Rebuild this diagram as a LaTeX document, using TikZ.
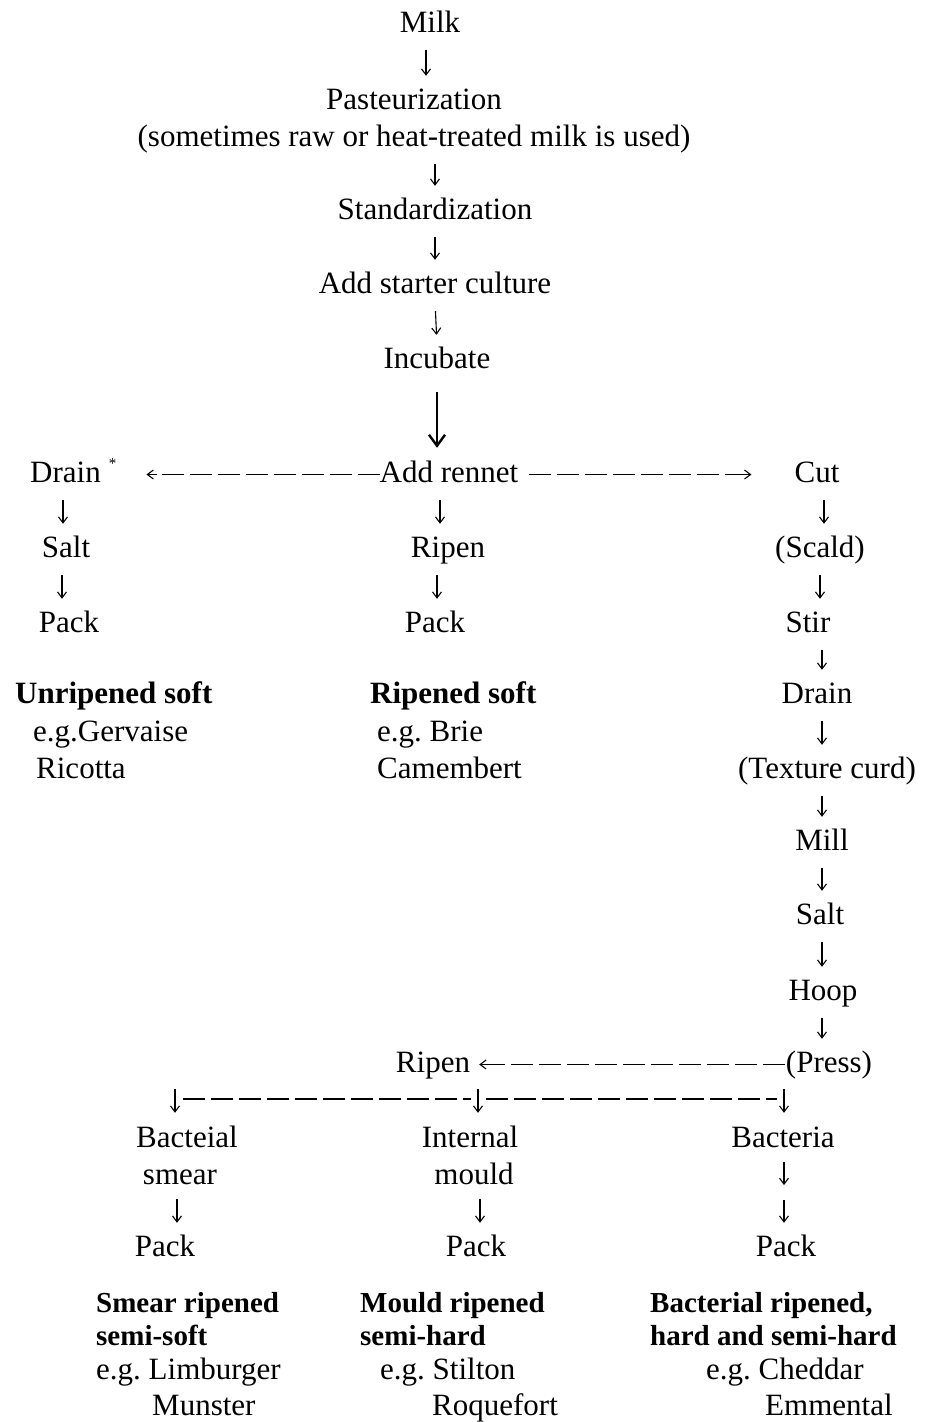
\documentclass[tikz,border=0pt]{standalone}
\usepackage{fontspec}
\setmainfont{Liberation Serif}
\frenchspacing
\usetikzlibrary{arrows.meta}
\tikzset{
  t/.style={font=\fontsize{31}{36}\selectfont, inner sep=0pt, text height=22pt, text depth=7pt, anchor=base},
  tl/.style={t, anchor=base west},
  bl/.style={tl, font=\fontsize{31}{36}\selectfont\bfseries},
  bls/.style={tl, font=\fontsize{29}{34}\selectfont\bfseries},
  arr/.style={line width=1.1pt, -{Straight Barb[length=6pt,width=9pt]}, shorten <=11pt, shorten >=11pt},
  bigarr/.style={line width=2.4pt, -{Straight Barb[length=11pt,width=16pt]}, shorten <=17pt, shorten >=12pt},
  dline/.style={line width=1.1pt, dash pattern=on 22pt off 6pt},
  tiparr/.style={line width=1.1pt, -{Straight Barb[length=6pt,width=9pt]}},
}
\begin{document}
\begin{tikzpicture}[x=1pt,y=-1pt]
\useasboundingbox (0,0) rectangle (928,1422);
% main trunk
\node[t] (milk) at (430,32) {Milk};
\node[t] (past) at (414,109) {Pasteurization};
\node[t] (some) at (414,146) {(sometimes raw or heat-treated milk is used)};
\node[t] (std) at (435,219) {Standardization};
\node[t] (start) at (435,293) {Add starter culture};
\node[t] (incub) at (437,368) {Incubate};
\node[t] (rennet) at (449,482) {Add rennet};
\node[tl] (drain1) at (30,482) {Drain\hspace{8pt}\raisebox{14pt}{\fontsize{15}{15}\selectfont *}};
\node[t] (cut) at (817,482) {Cut};
% left column
\node[t] (salt1) at (66,557) {Salt};
\node[t] (pack1) at (69,632) {Pack};
\node[bl] (unrip) at (15,703) {Unripened soft};
\node[tl] (gerv) at (33,741) {e.g.Gervaise};
\node[tl] (ricot) at (36,778) {Ricotta};
% middle column
\node[t] (ripen1) at (448,557) {Ripen};
\node[t] (pack2) at (435,632) {Pack};
\node[bl] (ripsoft) at (370,703) {Ripened soft};
\node[tl] (brie) at (377,741) {e.g. Brie};
\node[tl] (camem) at (377,778) {Camembert};
% right column
\node[t] (scald) at (820,557) {(Scald)};
\node[t] (stir) at (808,632) {Stir};
\node[t] (drain2) at (817,703) {Drain};
\node[t] (text) at (827,778) {(Texture curd)};
\node[t] (mill) at (822,850) {Mill};
\node[t] (salt2) at (820,924) {Salt};
\node[t] (hoop) at (823,1000) {Hoop};
\node[t] (press) at (829,1072) {(Press)};
\node[t] (ripen2) at (433,1072) {Ripen};
% bottom
\node[t] (bact1) at (187,1147) {Bacteial};
\node[t] (smear) at (180,1184) {smear};
\node[t] (int) at (470,1147) {Internal};
\node[t] (mould) at (474,1184) {mould};
\node[t] (bact3) at (783,1147) {Bacteria};
\node[t] (pack4) at (165,1256) {Pack};
\node[t] (pack5) at (476,1256) {Pack};
\node[t] (pack6) at (786,1256) {Pack};
\node[bls] (smr) at (96,1312) {Smear ripened};
\node[bls] (ssoft) at (96,1345) {semi-soft};
\node[tl] (limb) at (96,1379) {e.g. Limburger};
\node[tl] (munst) at (152,1415) {Munster};
\node[bls] (mr) at (360,1312) {Mould ripened};
\node[bls] (shard) at (360,1345) {semi-hard};
\node[tl] (stil) at (380,1379) {e.g. Stilton};
\node[tl] (roq) at (432,1415) {Roquefort};
\node[bls] (br) at (650,1312) {Bacterial ripened,};
\node[bls] (hsh) at (650,1345) {hard and semi-hard};
\node[tl] (ched) at (706,1379) {e.g. Cheddar};
\node[tl] (emm) at (765,1415) {Emmental};
% coordinates
\coordinate (bL) at (175,1089);
\coordinate (bM) at (478,1089);
\coordinate (bR) at (784,1089);
\coordinate (bmid) at (784,1192);
% trunk arrows
\draw[arr] (milk.south -| 426,0) -- (past.north -| 426,0);
\draw[arr] (some.south -| std.north) -- (std.north);
\draw[arr] (std.south) -- (start.north);
\draw[arr] (start.south) -- (incub.north);
\draw[bigarr] (incub.south) -- (incub.south |- rennet.north);
% horizontal dashed arrows (dashed shaft + solid tip)
\draw[dline, shorten >=34pt] (rennet.west) -- (rennet.west -| drain1.east);
\draw[tiparr, shorten <=223pt, shorten >=30pt] (rennet.west) -- (rennet.west -| drain1.east);
\draw[dline, shorten <=10pt, shorten >=47pt] (rennet.east) -- (cut.west);
\draw[tiparr, shorten <=224pt, shorten >=43pt] (rennet.east) -- (cut.west);
% left column
\draw[arr] (drain1.south -| 63,0) -- (salt1.north -| 63,0);
\draw[arr] (salt1.south -| 62,0) -- (pack1.north -| 62,0);
% middle column
\draw[arr] (rennet.south -| 440,0) -- (ripen1.north -| 440,0);
\draw[arr] (ripen1.south -| 437,0) -- (pack2.north -| 437,0);
% right column
\draw[arr] (cut.south -| 824,0) -- (scald.north -| 824,0);
\draw[arr] (scald.south) -- (scald.south |- stir.north);
\draw[arr] (stir.south -| 822,0) -- (drain2.north -| 822,0);
\draw[arr] (drain2.south -| 822,0) -- (text.north -| 822,0);
\draw[arr] (text.south -| mill.north) -- (mill.north);
\draw[arr] (mill.south) -- (mill.south |- salt2.north);
\draw[arr] (salt2.south -| 822,0) -- (hoop.north -| 822,0);
\draw[arr] (hoop.south -| 822,0) -- (press.north -| 822,0);
\draw[dline, shorten <=1pt, shorten >=13pt] (press.west) -- (ripen2.east);
\draw[tiparr, shorten <=300pt, shorten >=9pt] (press.west) -- (ripen2.east);
% branch
\draw[dline] ([shift={(8,10)}]bL) -- ([shift={(-7,10)}]bM);
\draw[dline] ([shift={(8,10)}]bM) -- ([shift={(-7,10)}]bR);
\draw[arr, shorten <=0pt, shorten >=12pt] (bL) -- (bL |- bact1.north);
\draw[arr, shorten <=0pt, shorten >=12pt] (bM) -- (bM |- int.north);
\draw[arr, shorten <=0pt, shorten >=12pt] (bR) -- (bR |- bact3.north);
\draw[arr, shorten <=8pt, shorten >=11pt] (smear.south -| 177,0) -- (pack4.north -| 177,0);
\draw[arr, shorten <=8pt, shorten >=11pt] (mould.south -| 480,0) -- (pack5.north -| 480,0);
\draw[arr, shorten <=8pt, shorten >=7pt] (bact3.south -| bmid) -- (bmid);
\draw[arr, shorten <=8pt, shorten >=11pt] (bmid) -- (bmid |- pack6.north);
\end{tikzpicture}
\end{document}
